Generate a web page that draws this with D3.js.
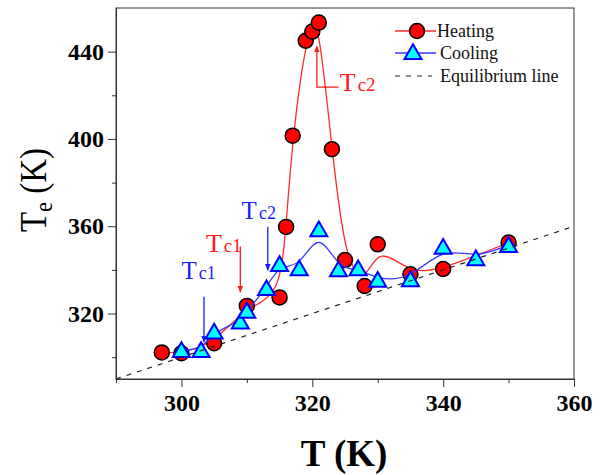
<!DOCTYPE html>
<html>
<head>
<meta charset="utf-8">
<script src="https://cdn.jsdelivr.net/npm/d3@7"></script>
<style>
	body { margin: 0; background: #fff; }
	svg text { font-family: "Liberation Serif", "DejaVu Serif", serif; }
</style>
</head>
<body>
<svg id="chart" width="605" height="475"></svg>
<script>
// heating run (red circles)
var heatingT = [297, 300, 305, 310, 315, 316, 317, 319, 320, 321, 323, 325, 328, 330, 335, 340, 350];
var heatingTe = [302.2, 301.8, 306.4, 323.5, 327.4, 359.7, 401.5, 445, 449.2, 453.3, 395.3, 344.5, 332.6, 351.7, 338, 340.4, 352.5];

// cooling run (cyan triangles)
var coolingT = [300, 303, 305, 309, 310, 313, 315, 318, 321, 324, 327, 330, 335, 340, 345, 350];
var coolingTe = [303.3, 303.3, 311.7, 316.3, 321.2, 331.6, 342.7, 340.7, 358.6, 340.3, 340.7, 335.4, 335.7, 350.6, 345.3, 351.4];

// Te = T
var equilibriumT = [290, 360];

var xTicks = [300, 320, 340, 360];
var xMinorTicks = [290, 310, 330, 350];
var yTicks = [320, 360, 400, 440];
var yMinorTicks = [300, 340, 380, 420];

var legendLabels = ['Heating', 'Cooling', 'Equilibrium line'];

// Tc markers, placed in data units
var annotations = [
	{ sub: 'c2', color: '#ff1a1a', at: [324.2, 422.1], big: 26, small: 19, path: [[324.0, 423.7], [320.7, 423.7], [320.7, 442.5]] },
	{ sub: 'c1', color: '#ff1a1a', at: [303.75, 348.4], big: 26, small: 19, path: [[309.0, 350.7], [309.0, 329.8]] },
	{ sub: 'c2', color: '#1a1aff', at: [309.2, 363.2], big: 25, small: 18, path: [[313.2, 359.8], [313.2, 339.8]] },
	{ sub: 'c1', color: '#1a1aff', at: [300.0, 335.7], big: 25, small: 18, path: [[303.45, 327.7], [303.45, 306.9]] }
];

(function(){
var svg = d3.select('#chart'),
	left = 116, right = 574, top = 8, bottom = 379;

var x = d3.scaleLinear().domain([290, 360]).range([left, right]);
var y = d3.scaleLinear().domain([290, 460]).range([bottom, top]);

function zip(xs, ys){
	return xs.map(function(v, i){ return [v, ys[i]]; });
}

var heating = zip(heatingT, heatingTe),
	cooling = zip(coolingT, coolingTe);

var defs = svg.append('defs');
['#ff1a1a', '#1a1aff'].forEach(function(c, i){
	defs.append('marker')
		.attr('id', 'arrow' + i)
		.attr('viewBox', '0 0 10 10')
		.attr('refX', 9).attr('refY', 5)
		.attr('markerWidth', 7).attr('markerHeight', 7)
		.attr('markerUnits', 'userSpaceOnUse')
		.attr('orient', 'auto')
		.append('path')
		.attr('d', 'M0,1L10,5L0,9Z')
		.attr('fill', c);
});

// frame
svg.append('rect')
	.attr('x', left).attr('y', top)
	.attr('width', right - left).attr('height', bottom - top)
	.attr('fill', 'none').attr('stroke', '#333').attr('stroke-width', 1);

// axes
svg.append('g')
	.attr('transform', 'translate(0,' + bottom + ')')
	.call(d3.axisBottom(x).tickValues(xTicks).tickSize(8).tickPadding(7).tickSizeOuter(0));
svg.append('g')
	.attr('transform', 'translate(0,' + bottom + ')')
	.call(d3.axisBottom(x).tickValues(xMinorTicks).tickSize(4).tickFormat('').tickSizeOuter(0));

svg.append('g')
	.attr('transform', 'translate(' + left + ',0)')
	.call(d3.axisLeft(y).tickValues(yTicks).tickSize(8).tickPadding(4).tickSizeOuter(0));
svg.append('g')
	.attr('transform', 'translate(' + left + ',0)')
	.call(d3.axisLeft(y).tickValues(yMinorTicks).tickSize(4).tickFormat('').tickSizeOuter(0));

svg.selectAll('.domain').attr('stroke', '#333');
svg.selectAll('.tick line').attr('stroke', '#333');
svg.selectAll('.tick text')
	.attr('fill', '#000')
	.style('font-family', '"Liberation Serif", serif')
	.style('font-size', '24px')
	.style('font-weight', 'bold');

// axis titles
svg.append('text')
	.attr('x', 344).attr('y', 466)
	.attr('text-anchor', 'middle')
	.style('font-size', '37px')
	.style('font-weight', 'bold')
	.text('T (K)');

var yTitle = svg.append('text')
	.attr('transform', 'translate(46,190) rotate(-90)')
	.attr('text-anchor', 'middle')
	.attr('textLength', 84)
	.attr('lengthAdjust', 'spacingAndGlyphs')
	.style('font-size', '38px');
yTitle.append('tspan').text('T');
yTitle.append('tspan').attr('dy', 6).style('font-size', '26px').text('e');
yTitle.append('tspan').attr('dy', -6).text(' (K)');

// curves
var smooth = d3.line()
	.x(function(d){ return x(d[0]); })
	.y(function(d){ return y(d[1]); })
	.curve(d3.curveBasis);

svg.append('path')
	.datum(heating)
	.attr('d', smooth)
	.attr('fill', 'none')
	.attr('stroke', '#ff2a2a')
	.attr('stroke-width', 1.3);

svg.selectAll('.heat')
	.data(heating)
	.enter()
	.append('circle')
	.attr('class', 'heat')
	.attr('cx', function(d){ return x(d[0]); })
	.attr('cy', function(d){ return y(d[1]); })
	.attr('r', 7.5)
	.attr('fill', '#ff0000')
	.attr('stroke', '#000')
	.attr('stroke-width', 1.5);

svg.append('path')
	.datum(cooling)
	.attr('d', smooth)
	.attr('fill', 'none')
	.attr('stroke', '#3a3aff')
	.attr('stroke-width', 1.3);

var tri = d3.symbol().type(d3.symbolTriangle).size(125);

svg.selectAll('.cool')
	.data(cooling)
	.enter()
	.append('path')
	.attr('class', 'cool')
	.attr('transform', function(d){ return 'translate(' + x(d[0]) + ',' + (y(d[1]) + 2) + ')'; })
	.attr('d', tri)
	.attr('fill', '#00ffff')
	.attr('stroke', '#0000ff')
	.attr('stroke-width', 2)
	.attr('stroke-linejoin', 'miter');

// equilibrium line on top
svg.append('line')
	.attr('x1', x(equilibriumT[0])).attr('y1', y(equilibriumT[0]))
	.attr('x2', x(equilibriumT[1])).attr('y2', y(equilibriumT[1]))
	.attr('stroke', '#222')
	.attr('stroke-width', 1.2)
	.attr('stroke-dasharray', '5,6');

// Tc annotations
annotations.forEach(function(a){
	var idx = a.color === '#ff1a1a' ? 0 : 1;
	svg.append('path')
		.attr('d', d3.line()(a.path.map(function(p){ return [x(p[0]), y(p[1])]; })))
		.attr('fill', 'none')
		.attr('stroke', a.color)
		.attr('stroke-width', 1.3)
		.attr('marker-end', 'url(#arrow' + idx + ')');

	var t = svg.append('text')
		.attr('x', x(a.at[0])).attr('y', y(a.at[1]))
		.attr('fill', a.color)
		.style('font-size', a.big + 'px');
	t.append('tspan').text('T');
	t.append('tspan').attr('dx', 2).style('font-size', a.small + 'px').text(a.sub);
});

// legend
var legend = svg.append('g').attr('transform', 'translate(395,0)');
var rowsY = [31, 53, 76];

legend.append('line')
	.attr('x1', 0).attr('x2', 41).attr('y1', rowsY[0]).attr('y2', rowsY[0])
	.attr('stroke', '#ff2a2a').attr('stroke-width', 1.3);
legend.append('circle')
	.attr('cx', 22).attr('cy', rowsY[0]).attr('r', 7.5)
	.attr('fill', '#ff0000').attr('stroke', '#000').attr('stroke-width', 1.5);

legend.append('line')
	.attr('x1', 0).attr('x2', 41).attr('y1', rowsY[1]).attr('y2', rowsY[1])
	.attr('stroke', '#3a3aff').attr('stroke-width', 1.3);
legend.append('path')
	.attr('transform', 'translate(18,' + (rowsY[1] + 1) + ')')
	.attr('d', tri)
	.attr('fill', '#00ffff').attr('stroke', '#0000ff').attr('stroke-width', 2);

legend.append('line')
	.attr('x1', 0).attr('x2', 37).attr('y1', rowsY[2]).attr('y2', rowsY[2])
	.attr('stroke', '#222').attr('stroke-width', 1.2)
	.attr('stroke-dasharray', '5,6');

legend.selectAll('.lbl')
	.data(legendLabels)
	.enter()
	.append('text')
	.attr('class', 'lbl')
	.attr('x', function(d, i){ return i === 0 ? 42 : 45; })
	.attr('y', function(d, i){ return rowsY[i] + 6; })
	.attr('fill', '#111')
	.style('font-size', '18px')
	.text(function(d){ return d; });
})();
</script>
</body>
</html>
